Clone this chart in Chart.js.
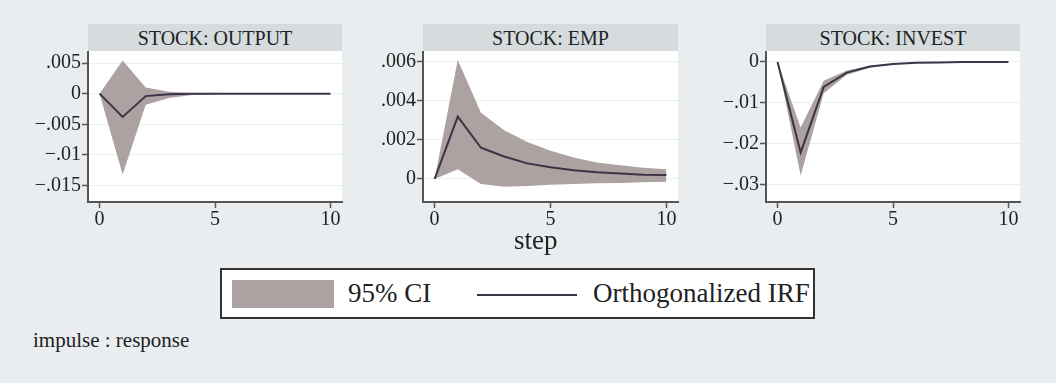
<!DOCTYPE html>
<html>
<head>
<meta charset="utf-8">
<script src="https://cdn.jsdelivr.net/npm/chart.js@4.4.0/dist/chart.umd.min.js"></script>
<style>
  body { margin: 0; background: #e9edef; font-family: "Liberation Serif", serif; color: #222; }
  #wrap { position: relative; width: 1056px; height: 383px; overflow: hidden; }
  .hdr { position: absolute; top: 24px; height: 27px; background: #d6dcde; font-size: 20px;
         line-height: 28px; text-align: center; }
  canvas { position: absolute; }
  .txt { position: absolute; white-space: nowrap; }
  #legend { position: absolute; left: 220px; top: 268px; width: 591px; height: 47px;
            border: 2px solid #333; background: #fff; }
</style>
</head>
<body>
<div id="wrap">
  <div class="hdr" style="left:88px;width:254px">STOCK: OUTPUT</div>
  <div class="hdr" style="left:423px;width:255px">STOCK: EMP</div>
  <div class="hdr" style="left:766px;width:254px">STOCK: INVEST</div>
  <canvas id="c1" style="left:30px;top:51px"></canvas>
  <canvas id="c2" style="left:365px;top:51px"></canvas>
  <canvas id="c3" style="left:708px;top:51px"></canvas>
  <div class="txt" style="left:514px;top:225px;font-size:27px">step</div>
  <div id="legend">
    <div style="position:absolute;left:10px;top:10px;width:102px;height:28px;background:#aba2a1"></div>
    <div class="txt" style="left:126px;top:8px;font-size:27px">95% CI</div>
    <div style="position:absolute;left:255px;top:24px;width:100px;height:2px;background:#3b3346"></div>
    <div class="txt" style="left:371px;top:8px;font-size:27px">Orthogonalized IRF</div>
  </div>
  <div class="txt" style="left:33px;top:328px;font-size:21px">impulse : response</div>
</div>
<script>
// steps 0..10
const steps = [0, 1, 2, 3, 4, 5, 6, 7, 8, 9, 10];
const xTicks = [0, 5, 10];

// STOCK -> OUTPUT
const outputIrf = [0, -0.0038, -0.0004, -0.0001, 0, 0, 0, 0, 0, 0, 0];
const outputUpper = [0, 0.0054, 0.001, 0.0003, 0.0001, 0.00005, 0, 0, 0, 0, 0];
const outputLower = [0, -0.0132, -0.0018, -0.0007, -0.0002, -0.0001, 0, 0, 0, 0, 0];
const outputTicks = [0.005, 0, -0.005, -0.01, -0.015];
const outputTickLabels = ['.005', '0', '\u2212.005', '\u2212.01', '\u2212.015'];

// STOCK -> EMP
const empIrf = [0, 0.0032, 0.0016, 0.00115, 0.0008, 0.0006, 0.00045, 0.00035, 0.00028, 0.00022, 0.0002];
const empUpper = [0, 0.0061, 0.0034, 0.0025, 0.0019, 0.00145, 0.0011, 0.00085, 0.0007, 0.00058, 0.0005];
const empLower = [0, 0.0005, -0.00026, -0.0004, -0.00036, -0.0003, -0.00026, -0.00022, -0.0002, -0.00017, -0.00014];
const empTicks = [0.006, 0.004, 0.002, 0];
const empTickLabels = ['.006', '.004', '.002', '0'];

// STOCK -> INVEST
const investIrf = [0, -0.0221, -0.0061, -0.0026, -0.0011, -0.0005, -0.0002, -0.0001, 0, 0, 0];
const investUpper = [0, -0.016, -0.0046, -0.0021, -0.0009, -0.0004, -0.00015, -0.00005, 0, 0, 0];
const investLower = [0, -0.0277, -0.0076, -0.0031, -0.0014, -0.0006, -0.00025, -0.0001, 0, 0, 0];
const investTicks = [0, -0.01, -0.02, -0.03];
const investTickLabels = ['0', '\u2212.01', '\u2212.02', '\u2212.03'];

const tickFont = { family: 'Liberation Serif', size: 20 };

// white plot region
const plotBg = {
  id: 'plotBg',
  beforeDraw(chart) {
    const a = chart.chartArea;
    chart.ctx.save();
    chart.ctx.fillStyle = '#ffffff';
    chart.ctx.fillRect(a.left, a.top, a.right - a.left, a.bottom - a.top);
    chart.ctx.restore();
  }
};

function pts(vals) {
  return steps.map((s, i) => ({ x: s, y: vals[i] }));
}

function makePanel(id, w, irf, upper, lower, yTicks, yLabels, yMin, yMax) {
  const cv = document.getElementById(id);
  cv.width = w;
  cv.height = 180;
  new Chart(cv, {
    type: 'line',
    data: {
      datasets: [
        { data: pts(lower), borderWidth: 0, pointRadius: 0, fill: false },
        { data: pts(upper), borderWidth: 0, pointRadius: 0, fill: '-1', backgroundColor: '#aba2a1' },
        { data: pts(irf), borderColor: '#3b3346', borderWidth: 2, pointRadius: 0, fill: false, order: -1 }
      ]
    },
    options: {
      responsive: false,
      animation: false,
      layout: { padding: { top: 0, right: 8, bottom: 0, left: 0 } },
      plugins: { legend: { display: false }, tooltip: { enabled: false } },
      scales: {
        x: {
          type: 'linear', min: -0.5, max: 10.5,
          afterBuildTicks: s => { s.ticks = xTicks.map(v => ({ value: v })); },
          afterFit: s => { s.height = 29; s.paddingLeft = 0; s.paddingRight = 0; },
          ticks: { font: tickFont, color: '#222', padding: 0, maxRotation: 0 },
          grid: { drawOnChartArea: false, tickColor: '#555', tickLength: 6, tickWidth: 1.5 },
          border: { color: '#555', width: 2 }
        },
        y: {
          min: yMin, max: yMax,
          afterBuildTicks: s => { s.ticks = yTicks.map(v => ({ value: v })); },
          afterFit: s => { s.width = 58; s.paddingTop = 0; s.paddingBottom = 0; },
          ticks: {
            font: tickFont, color: '#222', padding: 1,
            callback: (v) => yLabels[yTicks.indexOf(v)]
          },
          grid: { color: '#ebeeee', lineWidth: 1, tickColor: '#555', tickLength: 6, tickWidth: 1.5 },
          border: { color: '#555', width: 2 }
        }
      }
    },
    plugins: [plotBg]
  });
}

makePanel('c1', 320, outputIrf, outputUpper, outputLower, outputTicks, outputTickLabels, -0.0177, 0.00697);
makePanel('c2', 321, empIrf, empUpper, empLower, empTicks, empTickLabels, -0.00118, 0.00656);
makePanel('c3', 320, investIrf, investUpper, investLower, investTicks, investTickLabels, -0.03415, 0.00268);
</script>
</body>
</html>
